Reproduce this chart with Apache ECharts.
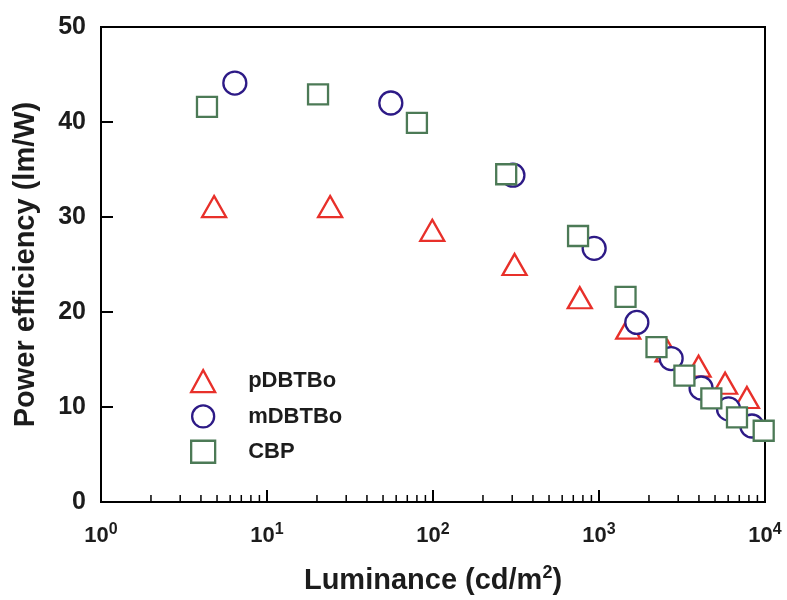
<!DOCTYPE html>
<html>
<head>
<meta charset="utf-8">
<script src="https://cdn.jsdelivr.net/npm/echarts@6/dist/echarts.min.js"></script>
<style>
  html, body { margin: 0; padding: 0; background: #fff; }
  #chart { width: 787px; height: 600px; }
</style>
</head>
<body>
<div id="chart"></div>
<script>
// luminance (cd/m2) and power efficiency (lm/W)
const pDBTBo = [
  [4.8, 31.1], [24, 31.1], [99, 28.6], [310, 25.0], [766, 21.5],
  [1500, 18.3], [2590, 15.9], [3980, 14.3], [5750, 12.5], [7780, 11.0]
];
const mDBTBo = [
  [6.4, 44.1], [55.7, 42.0], [303, 34.4], [935, 26.7], [1690, 18.9],
  [2720, 15.1], [4120, 12.0], [6030, 9.8], [8340, 8.0]
];
const CBP = [
  [4.35, 41.6], [20.3, 42.9], [80, 39.9], [276, 34.5], [748, 28.0],
  [1445, 21.6], [2220, 16.3], [3270, 13.3], [4750, 10.9], [6780, 8.9], [9820, 7.5]
];
const yTicks = [0, 10, 20, 30, 40, 50];
const xDecades = [1, 10, 100, 1000, 10000];

// minor tick positions 2..9 x 10^k
const minorTicks = [];
for (let k = 0; k < 4; k++) {
  for (let m = 2; m <= 9; m++) minorTicks.push([m * Math.pow(10, k), 0]);
}

const font = '"Liberation Sans", Arial, sans-serif';
const ink = '#1c1c1c';
const red = '#e8302a', navy = '#2d1a86', green = '#4c7a56';

const chart = echarts.init(document.getElementById('chart'));

function hollow(name, data, symbol, size, color) {
  return {
    name: name,
    type: 'scatter',
    data: data,
    symbol: symbol,
    symbolSize: size,
    itemStyle: { color: '#fff', borderColor: color, borderWidth: 2.3, opacity: 1 },
    emphasis: { disabled: true },
    z: 3
  };
}

chart.setOption({
  animation: false,
  textStyle: { fontFamily: font },
  grid: {
    left: 101, right: 22, top: 27, bottom: 97,
    show: true, borderColor: '#000', borderWidth: 2, backgroundColor: 'transparent'
  },
  legend: {
    orient: 'vertical',
    left: 185, top: 364,
    itemGap: 11,
    itemWidth: 24, itemHeight: 22,
    textStyle: { fontFamily: font, fontWeight: 'bold', fontSize: 22, color: ink, padding: [0, 0, 0, 28] },
    data: [
      { name: 'pDBTBo', icon: 'triangle', itemStyle: { color: '#fff', borderColor: red, borderWidth: 2.3 } },
      { name: 'mDBTBo', icon: 'circle', itemStyle: { color: '#fff', borderColor: navy, borderWidth: 2.3 } },
      { name: 'CBP', icon: 'rect', itemStyle: { color: '#fff', borderColor: green, borderWidth: 2.3 } }
    ]
  },
  xAxis: {
    type: 'log',
    logBase: 10,
    min: xDecades[0],
    max: xDecades[xDecades.length - 1],
    axisLine: { lineStyle: { color: '#000', width: 2 } },
    axisTick: { inside: true, length: 12, lineStyle: { color: '#000', width: 2 } },
    splitLine: { show: false },
    axisLabel: {
      margin: 20,
      formatter: function (v) {
        return '{b|10}{s|' + Math.round(Math.log10(v)) + '}';
      },
      rich: {
        b: { fontFamily: font, fontWeight: 'bold', fontSize: 22, color: ink },
        s: { fontFamily: font, fontWeight: 'bold', fontSize: 16, color: ink, padding: [0, 0, 12, 0] }
      }
    },
    name: 'Luminance (cd/m{s|2})',
    nameLocation: 'middle',
    nameGap: 62,
    nameTextStyle: {
      fontFamily: font, fontWeight: 'bold', fontSize: 29, color: ink,
      rich: {
        s: { fontFamily: font, fontWeight: 'bold', fontSize: 18, color: ink, padding: [0, 0, 15, 0] }
      }
    }
  },
  yAxis: {
    type: 'value',
    min: yTicks[0],
    max: yTicks[yTicks.length - 1],
    interval: 10,
    axisLine: { lineStyle: { color: '#000', width: 2 } },
    axisTick: { inside: true, length: 12, lineStyle: { color: '#000', width: 2 } },
    splitLine: { show: false },
    axisLabel: { margin: 15, fontFamily: font, fontWeight: 'bold', fontSize: 25, color: ink },
    name: 'Power efficiency (lm/W)',
    nameLocation: 'middle',
    nameGap: 61,
    nameTextStyle: { fontFamily: font, fontWeight: 'bold', fontSize: 29, color: ink }
  },
  series: [
    hollow('pDBTBo', pDBTBo, 'triangle', [24, 21], red),
    hollow('mDBTBo', mDBTBo, 'circle', 23, navy),
    hollow('CBP', CBP, 'rect', 20, green),
    {
      type: 'custom',
      data: minorTicks,
      silent: true,
      z: 1,
      renderItem: function (params, api) {
        const p = api.coord([api.value(0), api.value(1)]);
        return {
          type: 'line',
          shape: { x1: p[0], y1: p[1], x2: p[0], y2: p[1] - 7 },
          style: { stroke: '#000', lineWidth: 1.5 }
        };
      }
    }
  ]
});
</script>
</body>
</html>
